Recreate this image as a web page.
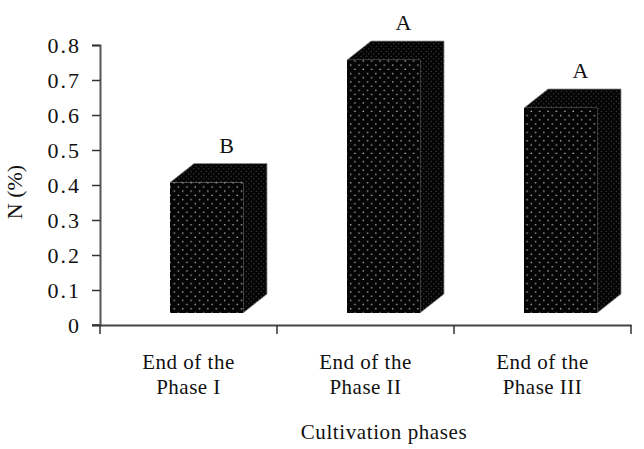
<!DOCTYPE html>
<html>
<head>
<meta charset="utf-8">
<script src="https://cdn.jsdelivr.net/npm/d3@7"></script>
<style>
  html, body { margin: 0; padding: 0; background: #fff; }
  text { font-family: "Liberation Serif", serif; fill: #111; }
</style>
</head>
<body>
<div id="wrapper"></div>
<script>
const phases = ["Phase I", "Phase II", "Phase III"];
const nValues = [0.407, 0.757, 0.62];
const letters = ["B", "A", "A"];
const yTicks = [0, 0.1, 0.2, 0.3, 0.4, 0.5, 0.6, 0.7, 0.8];

const width = 644;
const height = 449;
const margin = { top: 45, right: 13, bottom: 124, left: 100 };

const svg = d3
  .select("#wrapper")
  .append("svg")
  .attr("width", width)
  .attr("height", height)
  .style("display", "block");

const defs = svg.append("defs");

// dotted fill, front face is coarser than the sides
function dots(id, size, r, colour) {
  const p = defs
    .append("pattern")
    .attr("id", id)
    .attr("patternUnits", "userSpaceOnUse")
    .attr("width", size)
    .attr("height", size);
  p.append("rect").attr("width", size).attr("height", size).attr("fill", "#050505");
  p.append("circle").attr("cx", size / 4).attr("cy", size / 4).attr("r", r).attr("fill", colour);
  p.append("circle").attr("cx", (size * 3) / 4).attr("cy", (size * 3) / 4).attr("r", r).attr("fill", colour);
}
dots("dotsFront", 8.4, 0.8, "#b5b5b5");
dots("dotsSide", 5, 0.55, "#5c5c5c");

const x = d3
  .scaleBand()
  .domain(phases)
  .range([margin.left, width - margin.right]);

const y = d3
  .scaleLinear()
  .domain([0, 0.8])
  .range([height - margin.bottom, margin.top]);

// 3d box geometry
const frontOffset = 18;
const frontWidth = 73;
const depthX = 24;
const depthY = 19;
const floorY = y(0) - 12;

const bars = svg
  .selectAll(".bar")
  .data(phases.map((d, i) => ({ phase: d, value: nValues[i], letter: letters[i] })))
  .join("g")
  .attr("class", "bar");

const left = d => x(d.phase) + (x.bandwidth() - frontWidth) / 2 + frontOffset;

bars
  .append("path")
  .attr("fill", "url(#dotsSide)")
  .attr("stroke", "#8a8a8a")
  .attr("stroke-width", 0.8)
  .attr("stroke-linejoin", "round")
  .attr("d", d => {
    const l = left(d);
    const r = l + frontWidth;
    const t = y(d.value);
    return `M${l},${t}L${l + depthX},${t - depthY}H${r + depthX}V${floorY - depthY}L${r},${floorY}V${t}Z`;
  });

bars
  .append("rect")
  .attr("x", left)
  .attr("y", d => y(d.value))
  .attr("width", frontWidth)
  .attr("height", d => floorY - y(d.value))
  .attr("fill", "url(#dotsFront)");

bars
  .append("text")
  .attr("x", d => left(d) + frontWidth / 2 + 20)
  .attr("y", d => y(d.value) - 30)
  .attr("text-anchor", "middle")
  .attr("font-size", 22)
  .text(d => d.letter);

// axes
const yAxis = d3
  .axisLeft(y)
  .tickValues(yTicks)
  .tickSize(8)
  .tickPadding(11)
  .tickFormat(d => (d === 0 ? "0" : d3.format(".1f")(d)));

const yG = svg
  .append("g")
  .attr("transform", `translate(${margin.left},0)`)
  .call(yAxis);

yG.select(".domain").attr("stroke", "#555").attr("stroke-width", 2);
yG.selectAll(".tick line").attr("stroke", "#333").attr("stroke-width", 1.5);
yG.selectAll(".tick text")
  .attr("font-family", "Liberation Serif")
  .attr("font-size", 22)
  .attr("letter-spacing", 2)
  .attr("fill", "#111");

const xAxis = d3
  .axisBottom(x)
  .tickValues([])
  .tickSizeOuter(0);

const xG = svg
  .append("g")
  .attr("transform", `translate(0,${y(0)})`)
  .call(xAxis);

xG.select(".domain").attr("stroke", "#444").attr("stroke-width", 2);

// ticks sit between the categories
const xEdges = phases.map(d => x(d)).concat(x.range()[1]);
xG.selectAll(".edge")
  .data(xEdges)
  .join("line")
  .attr("class", "edge")
  .attr("x1", d => d)
  .attr("x2", d => d)
  .attr("y1", 0)
  .attr("y2", 9)
  .attr("stroke", "#333")
  .attr("stroke-width", 1.5);

xG.append("line")
  .attr("x1", margin.left - 8)
  .attr("x2", margin.left)
  .attr("stroke", "#333")
  .attr("stroke-width", 1.5);

// category labels are two lines
const catLabels = svg
  .selectAll(".cat")
  .data(phases)
  .join("text")
  .attr("class", "cat")
  .attr("text-anchor", "middle")
  .attr("font-size", 21)
  .attr("letter-spacing", 0.5);

catLabels
  .append("tspan")
  .attr("x", d => x(d) + x.bandwidth() / 2)
  .attr("y", 369)
  .text("End of the");

catLabels
  .append("tspan")
  .attr("x", d => x(d) + x.bandwidth() / 2)
  .attr("y", 394)
  .text(d => "" + d);

svg
  .append("text")
  .attr("x", 384)
  .attr("y", 439)
  .attr("text-anchor", "middle")
  .attr("font-size", 21)
  .attr("letter-spacing", 0.6)
  .text("Cultivation phases");

svg
  .append("text")
  .attr("transform", "translate(22,192) rotate(-90)")
  .attr("text-anchor", "middle")
  .attr("font-size", 22)
  .text("N (%)");
</script>
</body>
</html>
